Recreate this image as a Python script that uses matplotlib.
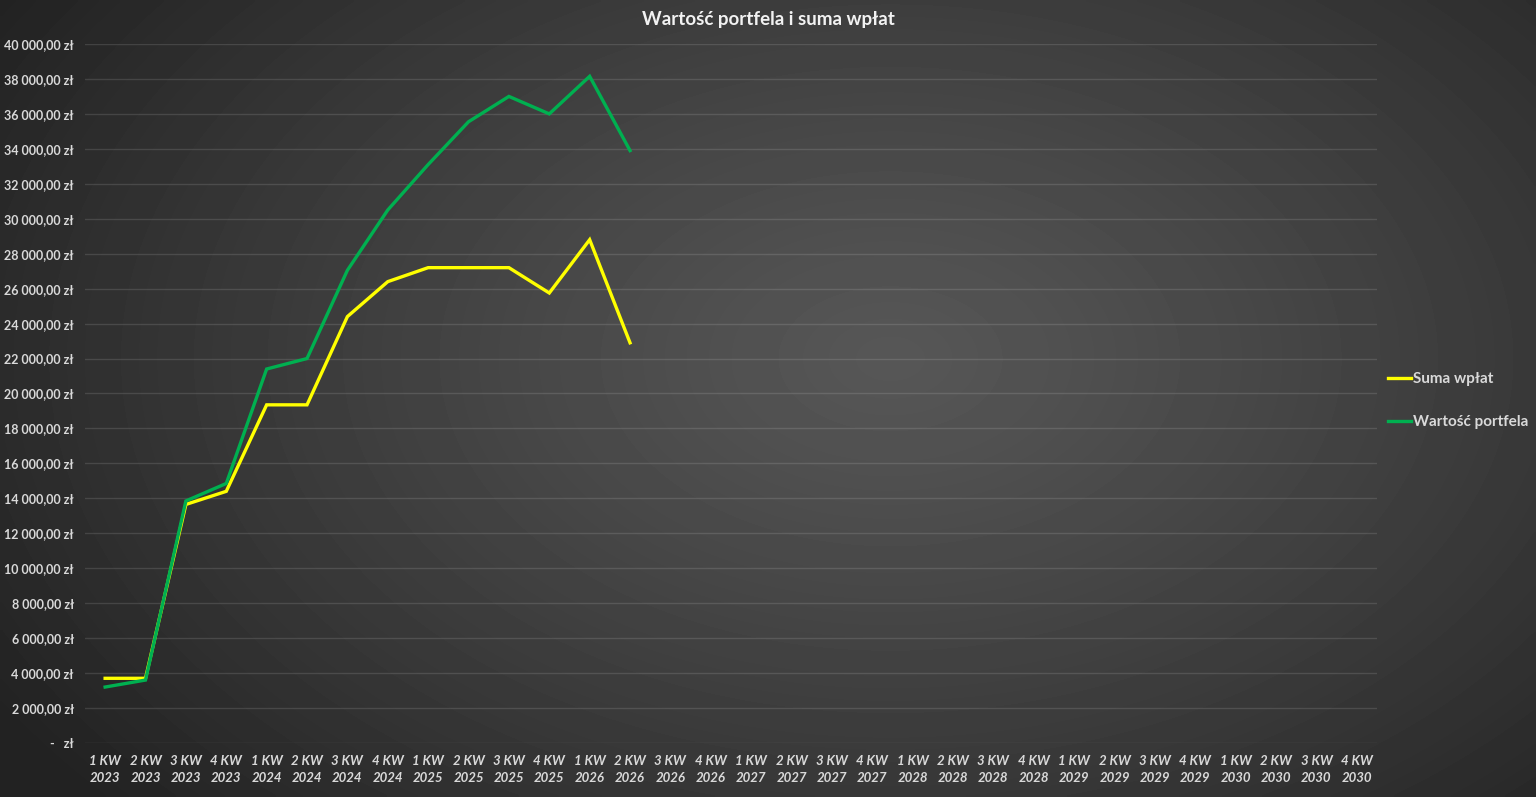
import numpy as np
import matplotlib
matplotlib.use("Agg")
import matplotlib.pyplot as plt
from matplotlib.ticker import FuncFormatter

plt.rcParams['font.family'] = ['Lato', 'DejaVu Sans']

# quarters shown on the x axis (2023 - 2030)
years = [2023, 2024, 2025, 2026, 2027, 2028, 2029, 2030]
labels = ["%d KW\n%d" % (q, y) for y in years for q in (1, 2, 3, 4)]

# values, only up to 2 KW 2026
suma_wplat = [3700, 3700, 13650, 14400, 19350, 19350, 24400, 26400,
              27200, 27200, 27200, 25750, 28800, 22900]
wartosc_portfela = [3200, 3600, 13850, 14850, 21400, 22000, 27050, 30500,
                    33100, 35550, 37000, 36000, 38150, 33900]

def pln(v, pos):
    if v == 0:
        return "-   zł"
    s = "{:,.2f}".format(v).replace(",", " ").replace(".", ",")
    return s + " zł"

fig = plt.figure(figsize=(15.36, 7.97), dpi=100)

# radial grey background like the excel chart area
bg = fig.add_axes([0, 0, 1, 1], zorder=-10)
gx, gy = np.meshgrid(np.linspace(0, 1, 400), np.linspace(0, 1, 220))
r = np.sqrt(((gx - 0.58) / 0.68) ** 2 + ((gy - 0.45) / 0.85) ** 2)
r = np.clip(r, 0, 1)
shade = 0.34 - 0.205 * r ** 1.15
bg.imshow(shade, cmap="gray", vmin=0, vmax=1, extent=[0, 1, 0, 1],
          aspect="auto", origin="upper", interpolation="bilinear")
bg.axis("off")

ax = fig.add_axes([0.0553, 0.0678, 0.8412, 0.877])
ax.set_facecolor("none")

x = np.arange(len(labels))
ax.plot(x[:len(suma_wplat)], suma_wplat, color="#FFFF00", lw=2.4,
        label="Suma wpłat", solid_joinstyle="miter")
ax.plot(x[:len(wartosc_portfela)], wartosc_portfela, color="#00B050", lw=2.4,
        label="Wartość portfela", solid_joinstyle="miter")

ax.set_xlim(-0.5, len(labels) - 0.5)
ax.set_ylim(0, 40000)
ax.set_yticks(np.arange(0, 40001, 2000))
ax.yaxis.set_major_formatter(FuncFormatter(pln))
ax.set_xticks(x)
ax.set_xticklabels(labels, fontstyle="italic", linespacing=1.5)

ax.grid(axis="y", color="white", alpha=0.12, lw=1)
ax.set_axisbelow(True)
for s in ax.spines.values():
    s.set_visible(False)
ax.tick_params(axis="both", length=0, colors="#D9D9D9")
ax.tick_params(axis="y", pad=8, labelsize=9)
ax.tick_params(axis="x", pad=9, labelsize=9.5)
for t in ax.get_xticklabels() + ax.get_yticklabels():
    t.set_fontweight("bold")

fig.text(0.5, 0.975, "Wartość portfela i suma wpłat", ha="center", va="center",
         color="#F2F2F2", fontsize=13.5, fontweight="bold")

leg = ax.legend(loc="center left", bbox_to_anchor=(0.998, 0.49), frameon=False,
                handlelength=1.5, handletextpad=0.1, labelspacing=1.9,
                fontsize=11)
for t in leg.get_texts():
    t.set_color("#D9D9D9")
    t.set_fontweight("bold")

fig.savefig("out.png", dpi=100)
